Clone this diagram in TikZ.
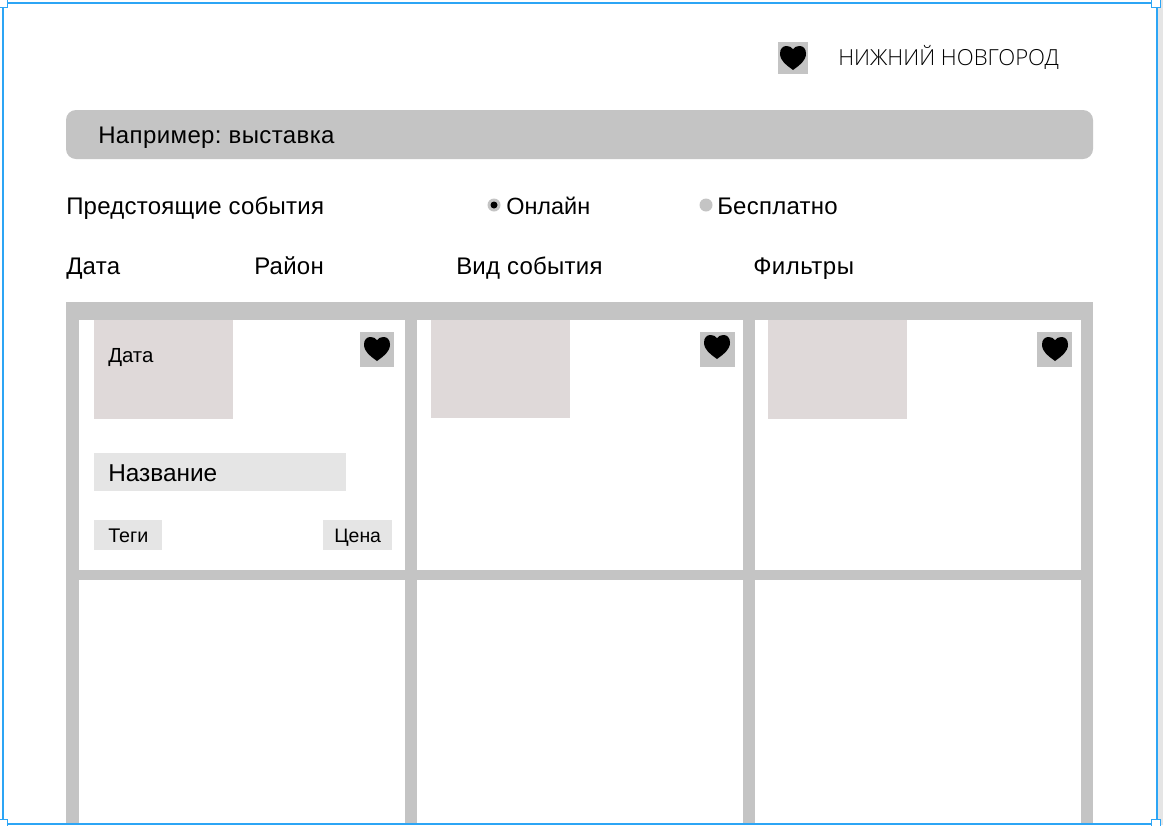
\documentclass[tikz,border=0pt]{standalone}
\usepackage{fontspec}
\setmainfont{Liberation Sans}
\newfontfamily\lightfont{Open Sans Light}
\definecolor{panel}{HTML}{C4C4C4}
\definecolor{photo}{HTML}{DFD9D9}
\definecolor{chip}{HTML}{E5E5E5}
\definecolor{frameblue}{HTML}{2CA5F5}
\newcommand{\bodysize}{\fontsize{18pt}{21pt}\selectfont\addfontfeature{LetterSpace=1}}
\tikzset{
  x=0.75pt,y=-0.75pt,
  panelbox/.style={fill=panel,draw=none},
  cellbox/.style={fill=white,draw=none},
  photobox/.style={fill=photo,draw=none},
  chipbox/.style={fill=chip,draw=none},
  label/.style={anchor=base west,inner sep=0pt,text=black},
  bodylabel/.style={label,font=\bodysize},
  handle/.style={fill=white,draw=frameblue,line width=1.1pt},
}
% #1 = centre x, #2 = centre y, heart 26 px wide and 24 px high
\newcommand{\heartat}[2]{%
  \begin{scope}[shift={(#1,#2)}]
    \fill[black] (0,12) -- (-2,10.5)
      .. controls (-6,7.5) and (-13,3) .. (-13,-4.5)
      .. controls (-13,-9.5) and (-10,-12) .. (-6.5,-12)
      .. controls (-3.5,-12) and (-1.2,-10.8) .. (0,-8.8)
      .. controls (1.2,-10.8) and (3.5,-12) .. (6.5,-12)
      .. controls (10,-12) and (13,-9.5) .. (13,-4.5)
      .. controls (13,3) and (6,7.5) .. (2,10.5) -- cycle;
  \end{scope}}
\begin{document}
\frenchspacing
\begin{tikzpicture}
\useasboundingbox (0,0) rectangle (1163,825);
\fill[white] (0,0) rectangle (1163,825);
\fill[chip] (1158,0) rectangle (1163,825);

% header
\fill[panelbox] (778,42) rectangle (808,74);
\heartat{793}{58}
\node[label,font=\lightfont\fontsize{16.6pt}{19pt}\selectfont] (city) at (838,65) {НИЖНИЙ НОВГОРОД};

% search
\fill[panelbox,rounded corners=7.5pt] (66,110) rectangle (1093,159);
\node[label,font=\fontsize{18pt}{21pt}\selectfont\addfontfeature{LetterSpace=1.6}] (search) at (98,143) {Например: выставка};

% filters
\node[bodylabel] (upcoming) at (66,214) {Предстоящие события};
\fill[panel] (494,205) circle (6.5);
\fill[black] (494,205) circle (3.5);
\node[label,font=\fontsize{17.6pt}{21pt}\selectfont] (online) at (506,214) {Онлайн};
\fill[panel] (706,205) circle (6.5);
\node[bodylabel] (free) at (717,214) {Бесплатно};
\node[bodylabel] (date) at (66,274) {Дата};
\node[bodylabel] (district) at (254,274) {Район};
\node[bodylabel] (kind) at (456,274) {Вид события};
\node[label,font=\fontsize{18pt}{21pt}\selectfont\addfontfeature{LetterSpace=2}] (more) at (753,274) {Фильтры};

% grid
\fill[panelbox] (66,302) rectangle (1093,825);
\foreach \xa/\xb in {79/405,417/743,755/1081}{
  \fill[cellbox] (\xa,320) rectangle (\xb,570);
  \fill[cellbox] (\xa,580) rectangle (\xb,825);
}

% photos
\fill[photobox] (94,320) rectangle (233,419);
\fill[photobox] (431,320) rectangle (570,418);
\fill[photobox] (768,320) rectangle (907,419);
\node[label,font=\fontsize{15.3pt}{18pt}\selectfont] (carddate) at (108,362) {Дата};

% hearts
\fill[panelbox] (360,332) rectangle (394,367);
\heartat{377}{349}
\fill[panelbox] (700,332) rectangle (735,367);
\heartat{717}{347}
\fill[panelbox] (1037,332) rectangle (1072,367);
\heartat{1055}{349}

% card text
\fill[chipbox] (94,453) rectangle (346,491);
\node[label,font=\fontsize{18.3pt}{21pt}\selectfont] (title) at (108,481) {Название};
\fill[chipbox] (94,520) rectangle (162,550);
\node[label,font=\fontsize{14.8pt}{18pt}\selectfont] (tags) at (108,542) {Теги};
\fill[chipbox] (323,520) rectangle (392,550);
\node[label,font=\fontsize{14.6pt}{18pt}\selectfont] (price) at (334,542) {Цена};

% selection frame
\draw[frameblue,line width=1.4pt] (3,3) rectangle (1156.7,824);
\foreach \hx/\hy in {3/3,1156/3,3/824,1156/824}{
  \draw[handle] (\hx-4.5,\hy-4.5) rectangle (\hx+4.5,\hy+4.5);
}
\end{tikzpicture}
\end{document}
